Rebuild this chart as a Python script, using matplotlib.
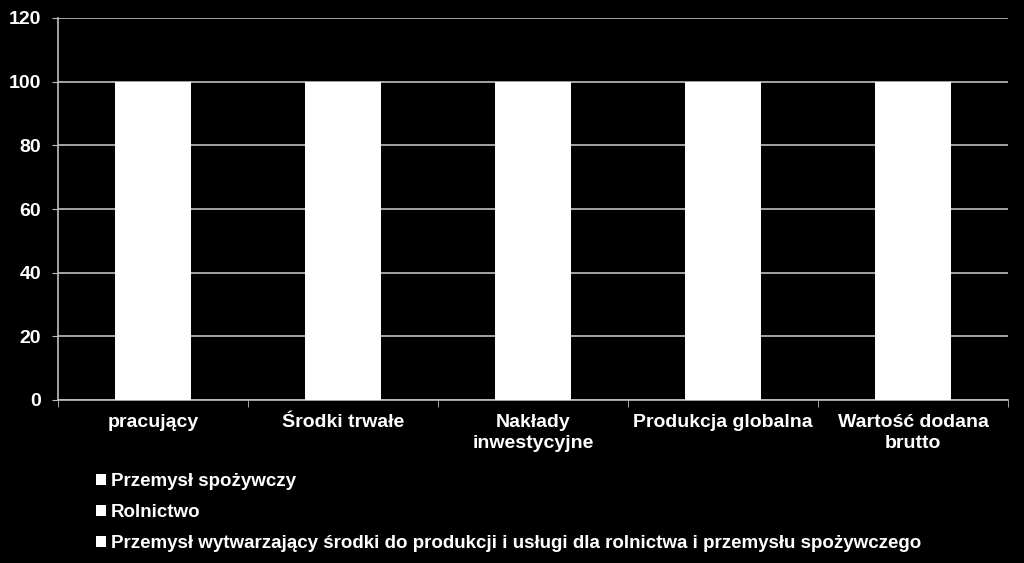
import matplotlib
matplotlib.use("Agg")
import matplotlib.pyplot as plt
import numpy as np

plt.rcParams['font.family'] = ['Liberation Sans', 'DejaVu Sans']
plt.rcParams['font.weight'] = 'bold'

categories = ['pracujący', 'Środki trwałe', 'Nakłady\ninwestycyjne',
              'Produkcja globalna', 'Wartość dodana\nbrutto']
series_names = ['Przemysł spożywczy', 'Rolnictwo',
                'Przemysł wytwarzający środki do produkcji i usługi dla rolnictwa i przemysłu spożywczego']
# shares in percent, each column adds up to 100
food_industry = [30, 35, 25, 45, 35]
agriculture = [60, 55, 60, 40, 50]
suppliers = [10, 10, 15, 15, 15]
series_values = [food_industry, agriculture, suppliers]

fig = plt.figure(figsize=(10.24, 5.63), dpi=100, facecolor='black')
ax = fig.add_axes([58 / 1024, 1 - 400 / 563, 950 / 1024, 382 / 563])
ax.set_facecolor('black')

x = np.arange(len(categories))
bottom = np.zeros(len(categories))
for name, vals in zip(series_names, series_values):
    ax.bar(x, vals, width=0.4, bottom=bottom, color='white', label=name, zorder=3)
    bottom += np.array(vals)

ax.set_xlim(-0.5, len(categories) - 0.5)
ax.set_ylim(0, 120)
ax.set_yticks(range(0, 121, 20))
ax.yaxis.grid(True, color='#bfbfbf', linewidth=1.2, zorder=0)

ax.set_xticks(x)
ax.set_xticklabels(categories, color='white', fontsize=14, fontweight='bold',
                   linespacing=1.3)
ax.set_xticks(np.arange(-0.5, len(categories), 1), minor=True)
ax.tick_params(axis='x', which='major', length=0, pad=10)
ax.tick_params(axis='x', which='minor', length=5, color='#bfbfbf', direction='out')
ax.tick_params(axis='y', colors='#bfbfbf', labelcolor='white', labelsize=14, length=4, pad=8)
for lbl in ax.get_yticklabels():
    lbl.set_fontweight('bold')

for side in ['top', 'right']:
    ax.spines[side].set_visible(False)
for side in ['left', 'bottom']:
    ax.spines[side].set_color('#bfbfbf')
    ax.spines[side].set_linewidth(1.2)

leg = fig.legend(loc='upper left', bbox_to_anchor=(79 / 1024, 1 - 456 / 563),
                 frameon=False, fontsize=13.5, handlelength=0.55, handleheight=0.55,
                 handletextpad=0.25, labelspacing=0.75, labelcolor='white')

fig.savefig('out.png', dpi=100, facecolor='black')
